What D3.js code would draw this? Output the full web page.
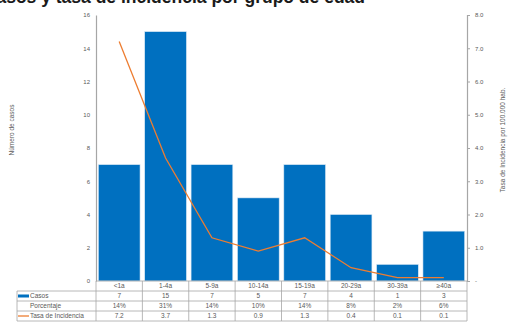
<!DOCTYPE html>
<html>
<head>
<meta charset="utf-8">
<script src="https://cdn.jsdelivr.net/npm/d3@7"></script>
<style>
  html, body { margin: 0; padding: 0; background: #fff; }
  svg { display: block; font-family: "Liberation Sans", Arial, sans-serif; }
</style>
</head>
<body>
<svg id="chart" width="508" height="322"></svg>
<script>
// Age groups, case counts, share of cases and incidence rate per 100,000
const categories = ["<1a", "1-4a", "5-9a", "10-14a", "15-19a", "20-29a", "30-39a", "≥40a"];
const casos = [7, 15, 7, 5, 7, 4, 1, 3];
const porcentaje = ["14%", "31%", "14%", "10%", "14%", "8%", "2%", "6%"];
const tasa = [7.2, 3.7, 1.3, 0.9, 1.3, 0.4, 0.1, 0.1];
const leftTicks = [0, 2, 4, 6, 8, 10, 12, 14, 16];
const rightTicks = [0, 1, 2, 3, 4, 5, 6, 7, 8];

const svg = d3.select("#chart");
const plot = { left: 96, right: 467, top: 15, bottom: 281 };
const gridColor = "#a6a6a6";
const textColor = "#595959";
const blue = "#0070C0";
const orange = "#ED7D31";

const x = d3.scaleBand().domain(categories).range([plot.left, plot.right]).paddingInner(0.1).paddingOuter(0.05);
const xCell = d3.scaleBand().domain(categories).range([plot.left, plot.right]);
const yLeft = d3.scaleLinear().domain([0, 16]).range([plot.bottom, plot.top]);
const yRight = d3.scaleLinear().domain([0, 8]).range([plot.bottom, plot.top]);

// Title, running off the top edge of the page
svg.append("text")
  .attr("x", 365).attr("y", 2.5)
  .attr("text-anchor", "end")
  .attr("font-size", 17.5).attr("font-weight", "bold").attr("fill", "#1a1a1a")
  .text("Casos y tasa de incidencia por grupo de edad");

// Bars
svg.append("g").selectAll("rect").data(casos).join("rect")
  .attr("x", (d, i) => x(categories[i]))
  .attr("width", x.bandwidth())
  .attr("y", d => yLeft(d))
  .attr("height", d => yLeft(0) - yLeft(d))
  .attr("fill", blue)
  .attr("stroke", "#dbe9f5").attr("stroke-width", 0.6);

// Incidence rate line
const line = d3.line()
  .x((d, i) => xCell(categories[i]) + xCell.bandwidth() / 2)
  .y(d => yRight(d));
svg.append("path").datum(tasa)
  .attr("d", line)
  .attr("fill", "none").attr("stroke", orange).attr("stroke-width", 1.3);

// Left axis
const leftAxis = svg.append("g").attr("transform", `translate(${plot.left},0)`)
  .call(d3.axisLeft(yLeft).tickValues(leftTicks).tickSize(0).tickPadding(6));
leftAxis.select(".domain").attr("stroke", gridColor).attr("stroke-width", 1.2);
leftAxis.selectAll("text").attr("fill", textColor).attr("font-size", 6).attr("font-family", "Liberation Sans, Arial, sans-serif");

// Right axis
const rightAxis = svg.append("g").attr("transform", `translate(${plot.right},0)`)
  .call(d3.axisRight(yRight).tickValues(rightTicks).tickSize(3).tickPadding(5)
    .tickFormat(d => d === 0 ? "-" : d3.format(".1f")(d)));
rightAxis.select(".domain").attr("stroke", gridColor).attr("stroke-width", 1.2);
rightAxis.selectAll("line").attr("stroke", gridColor);
rightAxis.selectAll("text").attr("fill", textColor).attr("font-size", 6).attr("font-family", "Liberation Sans, Arial, sans-serif");

// Axis titles
svg.append("text")
  .attr("transform", `translate(14,130) rotate(-90)`)
  .attr("text-anchor", "middle").attr("font-size", 6.5).attr("fill", textColor)
  .text("Número de casos");
svg.append("text")
  .attr("transform", `translate(505,140) rotate(-90)`)
  .attr("text-anchor", "middle").attr("font-size", 6.5).attr("fill", textColor)
  .text("Tasa de Incidencia por 100.000 hab.");

// Data table under the plot
const rowTop = [281, 291, 301, 311];
const rowH = 10;
const tableLeft = 17;
const table = svg.append("g");
const rows = [
  { label: null, values: categories },
  { label: "Casos", values: casos.map(String), key: "bar" },
  { label: "Porcentaje", values: porcentaje },
  { label: "Tasa de Incidencia", values: tasa.map(d => d3.format(".1f")(d)), key: "line" }
];

// horizontal rules
table.append("line").attr("x1", plot.left).attr("x2", plot.right).attr("y1", rowTop[0]).attr("y2", rowTop[0]);
[rowTop[1], rowTop[2], rowTop[3], rowTop[3] + rowH].forEach(yy => {
  table.append("line").attr("x1", tableLeft).attr("x2", plot.right).attr("y1", yy).attr("y2", yy);
});
// vertical rules
table.append("line").attr("x1", tableLeft).attr("x2", tableLeft).attr("y1", rowTop[1]).attr("y2", rowTop[3] + rowH);
categories.forEach(c => {
  table.append("line").attr("x1", xCell(c)).attr("x2", xCell(c)).attr("y1", rowTop[0]).attr("y2", rowTop[3] + rowH);
});
table.append("line").attr("x1", plot.right).attr("x2", plot.right).attr("y1", rowTop[0]).attr("y2", rowTop[3] + rowH);
table.selectAll("line").attr("stroke", gridColor).attr("stroke-width", 0.8);

rows.forEach((r, ri) => {
  const cy = rowTop[ri] + rowH / 2 + 2.2;
  r.values.forEach((v, i) => {
    table.append("text")
      .attr("x", xCell(categories[i]) + xCell.bandwidth() / 2).attr("y", cy)
      .attr("text-anchor", "middle").attr("font-size", 6.5).attr("fill", textColor)
      .text(v);
  });
  if (r.label) {
    table.append("text").attr("x", 30).attr("y", cy)
      .attr("font-size", 6.5).attr("fill", textColor).text(r.label);
  }
  if (r.key === "bar") {
    table.append("rect").attr("x", tableLeft + 1).attr("y", rowTop[ri] + 3.5)
      .attr("width", 11).attr("height", 3).attr("fill", blue);
  }
  if (r.key === "line") {
    table.append("line").attr("x1", tableLeft + 1).attr("x2", tableLeft + 12)
      .attr("y1", rowTop[ri] + 5).attr("y2", rowTop[ri] + 5)
      .attr("stroke", orange).attr("stroke-width", 1.3);
  }
});
</script>
</body>
</html>
